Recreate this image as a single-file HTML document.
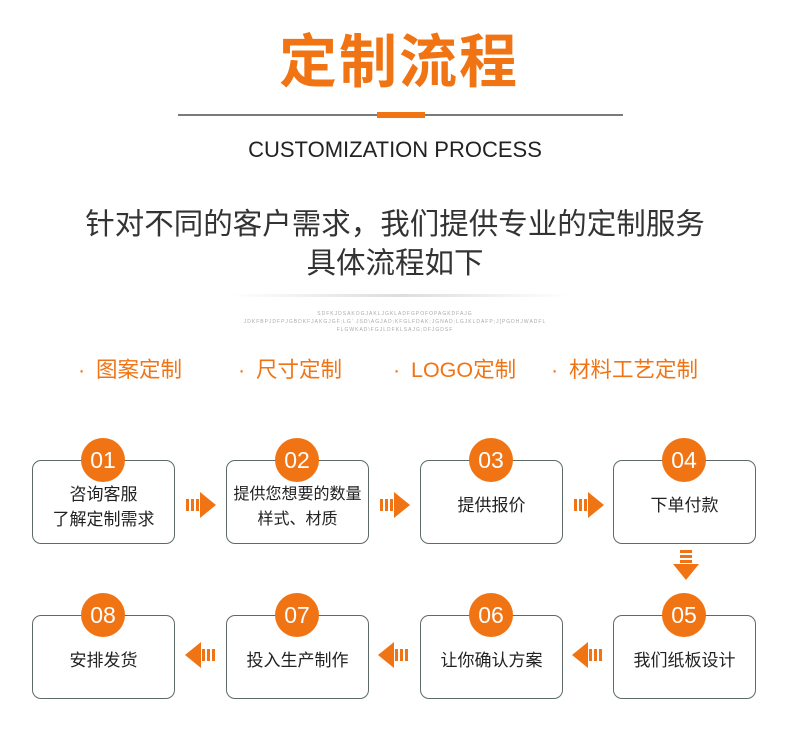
<!DOCTYPE html>
<html><head><meta charset="utf-8"><style>
body{margin:0;width:790px;height:751px;background:#fff;position:relative;overflow:hidden;font-family:"Liberation Sans","Noto Sans CJK SC",sans-serif;}
.a{position:absolute;}
.t{left:0;width:790px;text-align:center;}
.box{position:absolute;width:143px;height:84px;border:1.5px solid #5d6b66;border-radius:9px;box-sizing:border-box;display:flex;align-items:center;justify-content:center;text-align:center;font-size:17px;color:#222;line-height:25px;padding-top:6px;}
.c{position:absolute;width:44px;height:44px;border-radius:50%;background:#f07414;color:#fff;font-size:23px;line-height:44px;text-align:center;}
.cat{position:absolute;top:353px;font-size:21.5px;color:#f07414;white-space:nowrap;}
.cat span{display:inline-block;width:18px;}
</style></head><body>
<div class="a t" style="top:28px;left:4px;font-size:58px;font-weight:bold;color:#f07414;letter-spacing:2px;line-height:70px;">定制流程</div>
<div class="a" style="left:178px;top:114px;width:445px;height:2px;background:#7a7a7a;"></div>
<div class="a" style="left:377px;top:112px;width:48px;height:6px;background:#f07414;"></div>
<div class="a t" style="top:136px;font-size:22px;color:#222;line-height:28px;">CUSTOMIZATION PROCESS</div>
<div class="a t" style="top:205px;font-size:29.5px;color:#333;line-height:39px;">针对不同的客户需求，我们提供专业的定制服务<br>具体流程如下</div>
<div class="a" style="left:230px;top:294px;width:340px;height:3px;background:linear-gradient(90deg,transparent,#ddd,transparent);"></div>
<div class="a t" style="top:310px;font-size:5px;color:#aaa;line-height:8px;letter-spacing:1px;">SDFKJDSAKOGJAKLJGKLADFGPOFOPAGKDFAJG<br>JDKFBPJDFPJGBDKFJAKGJGF;LG' JSD\AGJAD;KFGLFDAK;JGNAD;LGJKLDAFP;J[PGDHJWADFL<br>FLGWKAD\FGJLDFKLSAJG;DFJGDSF</div>
<div class="cat" style="left:78px;"><span>·</span>图案定制</div>
<div class="cat" style="left:238px;"><span>·</span>尺寸定制</div>
<div class="cat" style="left:393px;"><span>·</span>LOGO定制</div>
<div class="cat" style="left:551px;"><span>·</span>材料工艺定制</div>

<div class="box" style="left:32px;top:460px;padding-top:10px;">咨询客服<br>了解定制需求</div>
<div class="box" style="left:226px;top:460px;font-size:16px;padding-top:10px;">提供您想要的数量<br>样式、材质</div>
<div class="box" style="left:420px;top:460px;">提供报价</div>
<div class="box" style="left:613px;top:460px;">下单付款</div>
<div class="box" style="left:32px;top:615px;">安排发货</div>
<div class="box" style="left:226px;top:615px;">投入生产制作</div>
<div class="box" style="left:420px;top:615px;">让你确认方案</div>
<div class="box" style="left:613px;top:615px;">我们纸板设计</div>

<div class="c" style="left:81px;top:438px;">01</div>
<div class="c" style="left:275px;top:438px;">02</div>
<div class="c" style="left:469px;top:438px;">03</div>
<div class="c" style="left:662px;top:438px;">04</div>
<div class="c" style="left:81px;top:593px;">08</div>
<div class="c" style="left:275px;top:593px;">07</div>
<div class="c" style="left:469px;top:593px;">06</div>
<div class="c" style="left:662px;top:593px;">05</div>

<svg class="a" style="left:0;top:0" width="790" height="751">
<defs>
<g id="r" fill="#f07414"><rect x="0" y="-6" width="3" height="12"/><rect x="5" y="-6" width="3" height="12"/><rect x="10" y="-6" width="3" height="12"/><polygon points="14,-13 30,0 14,13"/></g>
</defs>
<use href="#r" transform="translate(186,505)"/>
<use href="#r" transform="translate(380,505)"/>
<use href="#r" transform="translate(574,505)"/>
<use href="#r" transform="translate(686,550) rotate(90)"/>
<use href="#r" transform="translate(602,655) rotate(180)"/>
<use href="#r" transform="translate(408,655) rotate(180)"/>
<use href="#r" transform="translate(215,655) rotate(180)"/>
</svg>
</body></html>
